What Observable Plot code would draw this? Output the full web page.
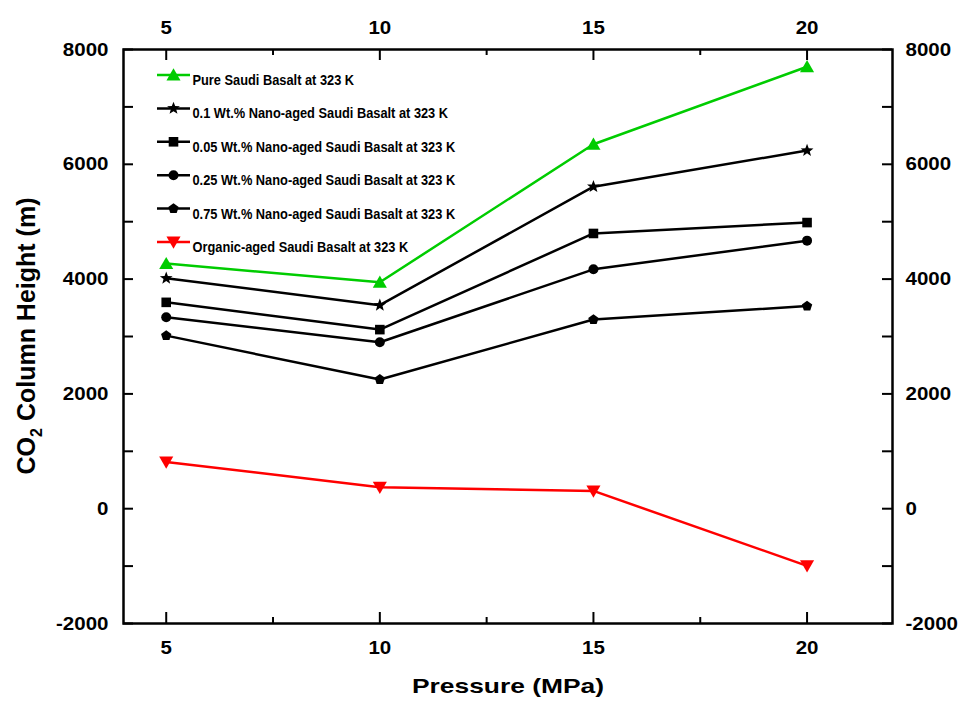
<!DOCTYPE html>
<html><head><meta charset="utf-8">
<script src="https://cdn.jsdelivr.net/npm/d3@7"></script>
<script src="https://cdn.jsdelivr.net/npm/@observablehq/plot@0.6"></script>
<style>
html,body{margin:0;padding:0;background:#fff;}
</style></head><body><div id="chart"></div>
<script>
// ---- data ----
const pressures = [5, 10, 15, 20];
const seriesNames = [
  "Pure Saudi Basalt at 323 K",
  "0.1 Wt.% Nano-aged Saudi Basalt at 323 K",
  "0.05 Wt.% Nano-aged Saudi Basalt at 323 K",
  "0.25 Wt.% Nano-aged Saudi Basalt at 323 K",
  "0.75 Wt.% Nano-aged Saudi Basalt at 323 K",
  "Organic-aged Saudi Basalt at 323 K"
];
const pureBasalt = [4270, 3945, 6350, 7700];
const nano01 = [4015, 3545, 5610, 6240];
const nano005 = [3595, 3120, 4795, 4985];
const nano025 = [3335, 2900, 4170, 4670];
const nano075 = [3015, 2250, 3295, 3530];
const organicAged = [815, 375, 310, -995];
const seriesColors = ["#00cc00", "#000000", "#000000", "#000000", "#000000", "#ff0000"];
const xTickValues = [5, 10, 15, 20];
const xMinorTicks = [7.5, 12.5, 17.5];
const yTickValues = [-2000, 0, 2000, 4000, 6000, 8000];
const yAllTicks = [-2000, -1000, 0, 1000, 2000, 3000, 4000, 5000, 6000, 7000, 8000];

// ---- symbols ----
const rad = s => Math.sqrt(s / Math.PI);
const symTriUp = {draw(c, s) { const r = rad(s); c.moveTo(0, -1.05 * r); c.lineTo(1.1 * r, 0.85 * r); c.lineTo(-1.1 * r, 0.85 * r); c.closePath(); }};
const symTriDown = {draw(c, s) { const r = rad(s); c.moveTo(0, 1.05 * r); c.lineTo(1.1 * r, -0.85 * r); c.lineTo(-1.1 * r, -0.85 * r); c.closePath(); }};
const symSquare = {draw(c, s) { const r = rad(s) * 0.75; c.moveTo(-r, -r); c.lineTo(r, -r); c.lineTo(r, r); c.lineTo(-r, r); c.closePath(); }};
const symCircle = {draw(c, s) { const r = rad(s) * 0.78; c.moveTo(r, 0); c.arc(0, 0, r, 0, 2 * Math.PI); }};
const symStar = {draw(c, s) {
  const R = rad(s) * 1.05, ri = R * 0.42;
  for (let k = 0; k < 10; k++) {
    const a = -Math.PI / 2 + k * Math.PI / 5, rr = k % 2 ? ri : R;
    const px = rr * Math.cos(a), py = rr * Math.sin(a);
    k ? c.lineTo(px, py) : c.moveTo(px, py);
  }
  c.closePath();
}};
const symPentagon = {draw(c, s) {
  const R = rad(s) * 0.85;
  for (let k = 0; k < 5; k++) {
    const a = -Math.PI / 2 + k * 2 * Math.PI / 5;
    const px = R * Math.cos(a), py = R * Math.sin(a);
    k ? c.lineTo(px, py) : c.moveTo(px, py);
  }
  c.closePath();
}};
const symHLine = {draw(c, s) { const r = rad(s); c.moveTo(-r, 0); c.lineTo(r, 0); }};

const seriesValues = [pureBasalt, nano01, nano005, nano025, nano075, organicAged];
const seriesSymbols = [symTriUp, symStar, symSquare, symCircle, symPentagon, symTriDown];
const series = seriesNames.map((name, i) => ({name, values: seriesValues[i], color: seriesColors[i], symbol: seriesSymbols[i]}));
const rows = series.flatMap(s => pressures.map((p, j) => ({series: s.name, pressure: p, height: s.values[j]})));

// ---- layout ----
const W = 960, H = 701, mL = 123, mR = 68, mT = 49, mB = 78;
const fw = W - mL - mR, fh = H - mT - mB;
const fmt = d => String(d);
const tickFont = 19;
const markR = 6.4;

const legendMarks = series.flatMap((s, i) => {
  const dy = 25.5 + i * 33.4;
  return [
    Plot.dot([s], {frameAnchor: "top-left", dx: 50, dy, symbol: symHLine, r: 16.5, stroke: s.color, strokeWidth: 2.5, fill: "none"}),
    Plot.dot([s], {frameAnchor: "top-left", dx: 50, dy, symbol: s.symbol, r: markR, fill: s.color, stroke: "none"}),
    Plot.text([s], {frameAnchor: "top-left", dx: 69, dy, text: d => d.name, textAnchor: "start", fontSize: 14, fontWeight: "bold", fill: "#000"})
  ];
});

const chart = Plot.plot({
  width: W, height: H,
  marginLeft: mL, marginRight: mR, marginTop: mT, marginBottom: mB,
  x: {domain: [4, 22]},
  y: {domain: [-2000, 8000]},
  style: {fontFamily: "'Liberation Sans', Arial, sans-serif", fontWeight: "bold", color: "#000", background: "#fff", overflow: "visible"},
  marks: [
    Plot.axisX(xTickValues, {anchor: "bottom", tickSize: 0, tickPadding: 17, fontSize: tickFont, fontWeight: "bold", label: null, tickFormat: fmt}),
    Plot.axisX(xTickValues, {anchor: "top", tickSize: 0, tickPadding: 16, fontSize: tickFont, fontWeight: "bold", label: null, tickFormat: fmt}),
    Plot.axisY(yTickValues, {anchor: "left", tickSize: 0, tickPadding: 15, fontSize: tickFont, fontWeight: "bold", label: null, tickFormat: fmt}),
    Plot.axisY(yTickValues, {anchor: "right", tickSize: 0, tickPadding: 13, fontSize: tickFont, fontWeight: "bold", label: null, tickFormat: fmt}),
    Plot.tickX(xTickValues, {x: d => d, insetTop: fh - 11, stroke: "#000", strokeWidth: 2}),
    Plot.tickX(xTickValues, {x: d => d, insetBottom: fh - 11, stroke: "#000", strokeWidth: 2}),
    Plot.tickX(xMinorTicks, {x: d => d, insetTop: fh - 6, stroke: "#000", strokeWidth: 2}),
    Plot.tickX(xMinorTicks, {x: d => d, insetBottom: fh - 6, stroke: "#000", strokeWidth: 2}),
    Plot.tickY(yAllTicks, {y: d => d, insetRight: fw - 10, stroke: "#000", strokeWidth: 2}),
    Plot.tickY(yAllTicks, {y: d => d, insetLeft: fw - 10, stroke: "#000", strokeWidth: 2}),
    Plot.line(rows, {x: "pressure", y: "height", z: "series", stroke: d => seriesColors[seriesNames.indexOf(d.series)], strokeWidth: 2.5}),
    ...series.map(s => Plot.dot(rows.filter(r => r.series === s.name), {x: "pressure", y: "height", symbol: s.symbol, r: markR, fill: s.color, stroke: "none"})),
    ...legendMarks,
    Plot.text(["Pressure (MPa)"], {frameAnchor: "bottom", dy: 69, text: d => d, fontSize: 21, fontWeight: "bold", fill: "#000"}),
    Plot.frame({stroke: "#000", strokeWidth: 2.5})
  ]
});
document.getElementById("chart").appendChild(chart);

// Y-axis title with subscript
const svg = d3.select(chart);
const yt = svg.append("text")
  .attr("transform", `translate(35,${mT + fh / 2}) rotate(-90)`)
  .attr("text-anchor", "middle")
  .attr("font-family", "'Liberation Sans', Arial, sans-serif")
  .attr("font-weight", "bold")
  .attr("font-size", 25)
  .attr("fill", "#000");
yt.append("tspan").text("CO");
yt.append("tspan").text("2").attr("font-size", 16).attr("dy", 7);
yt.append("tspan").text(" Column Height (m)").attr("dy", -7);

// slight horizontal stretch of tick labels, axis title and legend as in the original
svg.selectAll('g[aria-label$="tick label"] text').each(function() {
  const L = this.getComputedTextLength();
  this.setAttribute("textLength", (L * 1.08).toFixed(2));
  this.setAttribute("lengthAdjust", "spacingAndGlyphs");
});
svg.selectAll('g[aria-label="text"] text').each(function() {
  const L = this.getComputedTextLength();
  if (this.textContent === "Pressure (MPa)") {
    this.setAttribute("textLength", 192);
  } else {
    this.setAttribute("textLength", (L * 0.915).toFixed(2));
  }
  this.setAttribute("lengthAdjust", "spacingAndGlyphs");
});
</script></body></html>
